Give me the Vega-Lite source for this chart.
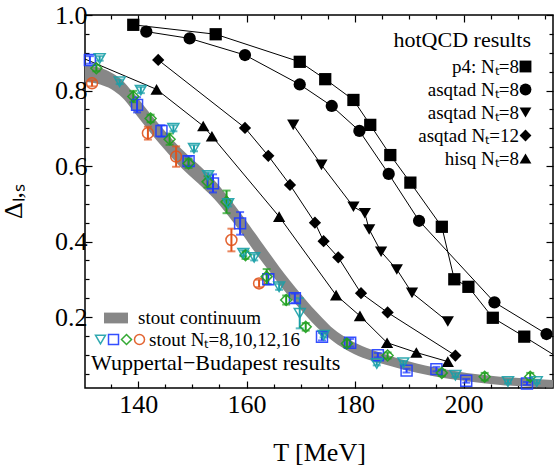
{
  "$schema": "https://vega.github.io/schema/vega-lite/v6.json",
  "width": 468,
  "height": 373,
  "autosize": {"type": "none"},
  "padding": {"left": 85, "top": 15, "right": 1, "bottom": 77},
  "background": "white",
  "config": {
    "font": "Liberation Serif",
    "view": {"stroke": "black", "strokeWidth": 1.5},
    "legend": {"padding": 0, "labelFont": "Liberation Serif", "titleFont": "Liberation Serif", "labelColor": "black", "titleColor": "black", "titleFontWeight": "normal", "titleLimit": 400, "labelLimit": 400}
  },
  "datasets": {
    "band": [
      {"T": 130.2, "lo": 0.823, "hi": 0.867, "series": "stout continuum"},
      {"T": 133, "lo": 0.816, "hi": 0.86, "series": "stout continuum"},
      {"T": 135, "lo": 0.804, "hi": 0.848, "series": "stout continuum"},
      {"T": 137, "lo": 0.782, "hi": 0.828, "series": "stout continuum"},
      {"T": 139, "lo": 0.748, "hi": 0.796, "series": "stout continuum"},
      {"T": 141.5, "lo": 0.702, "hi": 0.752, "series": "stout continuum"},
      {"T": 144, "lo": 0.658, "hi": 0.708, "series": "stout continuum"},
      {"T": 147.7, "lo": 0.599, "hi": 0.649, "series": "stout continuum"},
      {"T": 151, "lo": 0.555, "hi": 0.605, "series": "stout continuum"},
      {"T": 154, "lo": 0.513, "hi": 0.563, "series": "stout continuum"},
      {"T": 156.5, "lo": 0.47, "hi": 0.52, "series": "stout continuum"},
      {"T": 158.8, "lo": 0.427, "hi": 0.477, "series": "stout continuum"},
      {"T": 160.5, "lo": 0.393, "hi": 0.443, "series": "stout continuum"},
      {"T": 162.5, "lo": 0.353, "hi": 0.403, "series": "stout continuum"},
      {"T": 164.3, "lo": 0.319, "hi": 0.367, "series": "stout continuum"},
      {"T": 166.1, "lo": 0.285, "hi": 0.331, "series": "stout continuum"},
      {"T": 168, "lo": 0.252, "hi": 0.296, "series": "stout continuum"},
      {"T": 170, "lo": 0.219, "hi": 0.261, "series": "stout continuum"},
      {"T": 172, "lo": 0.187, "hi": 0.227, "series": "stout continuum"},
      {"T": 174, "lo": 0.159, "hi": 0.197, "series": "stout continuum"},
      {"T": 176, "lo": 0.135, "hi": 0.169, "series": "stout continuum"},
      {"T": 179, "lo": 0.108, "hi": 0.14, "series": "stout continuum"},
      {"T": 182.2, "lo": 0.088, "hi": 0.118, "series": "stout continuum"},
      {"T": 185, "lo": 0.076, "hi": 0.104, "series": "stout continuum"},
      {"T": 188.3, "lo": 0.063, "hi": 0.089, "series": "stout continuum"},
      {"T": 194.5, "lo": 0.043, "hi": 0.067, "series": "stout continuum"},
      {"T": 200.6, "lo": 0.03, "hi": 0.052, "series": "stout continuum"},
      {"T": 206.8, "lo": 0.02, "hi": 0.042, "series": "stout continuum"},
      {"T": 216.5, "lo": 0.013, "hi": 0.033, "series": "stout continuum"}
    ],
    "hot": [
      {"set": "a", "T": 139.1, "D": 0.974}, {"set": "a", "T": 154.3, "D": 0.949}, {"set": "a", "T": 169.8, "D": 0.876},
      {"set": "a", "T": 174.5, "D": 0.83}, {"set": "a", "T": 179.7, "D": 0.775}, {"set": "a", "T": 182.8, "D": 0.709},
      {"set": "a", "T": 186.5, "D": 0.629}, {"set": "a", "T": 190.2, "D": 0.556}, {"set": "a", "T": 196.0, "D": 0.439},
      {"set": "a", "T": 198.3, "D": 0.3}, {"set": "a", "T": 200.9, "D": 0.28}, {"set": "a", "T": 205.4, "D": 0.198},
      {"set": "a", "T": 211.2, "D": 0.148}, {"set": "a", "T": 220, "D": 0.07},
      {"set": "b", "T": 141.5, "D": 0.956}, {"set": "b", "T": 149.5, "D": 0.938}, {"set": "b", "T": 159.7, "D": 0.894},
      {"set": "b", "T": 169.8, "D": 0.816}, {"set": "b", "T": 175.7, "D": 0.759}, {"set": "b", "T": 180.8, "D": 0.693},
      {"set": "b", "T": 186.2, "D": 0.579}, {"set": "b", "T": 191.8, "D": 0.455}, {"set": "b", "T": 205.7, "D": 0.239},
      {"set": "b", "T": 215.3, "D": 0.155},
      {"set": "c", "T": 168.6, "D": 0.709}, {"set": "c", "T": 173.8, "D": 0.603}, {"set": "c", "T": 179.7, "D": 0.492},
      {"set": "c", "T": 181.8, "D": 0.475}, {"set": "c", "T": 182.6, "D": 0.432}, {"set": "c", "T": 184.8, "D": 0.373},
      {"set": "c", "T": 187.7, "D": 0.326}, {"set": "c", "T": 190.5, "D": 0.264}, {"set": "c", "T": 197.1, "D": 0.188},
      {"set": "d", "T": 143.7, "D": 0.881}, {"set": "d", "T": 159.7, "D": 0.701}, {"set": "d", "T": 164.0, "D": 0.627},
      {"set": "d", "T": 168.0, "D": 0.55}, {"set": "d", "T": 172.6, "D": 0.45}, {"set": "d", "T": 174.2, "D": 0.401},
      {"set": "d", "T": 176.9, "D": 0.358}, {"set": "d", "T": 181.1, "D": 0.263}, {"set": "d", "T": 186.0, "D": 0.212},
      {"set": "d", "T": 198.5, "D": 0.098},
      {"set": "e", "T": 125, "D": 0.915}, {"set": "e", "T": 143.4, "D": 0.803}, {"set": "e", "T": 152.0, "D": 0.706},
      {"set": "e", "T": 153.6, "D": 0.679}, {"set": "e", "T": 166.0, "D": 0.466}, {"set": "e", "T": 176.5, "D": 0.258},
      {"set": "e", "T": 180.9, "D": 0.203}, {"set": "e", "T": 185.9, "D": 0.132}, {"set": "e", "T": 191.3, "D": 0.106},
      {"set": "e", "T": 197.1, "D": 0.082}
    ],
    "wb": [
      {"Nt": "16", "T": 131.5, "D": 0.819, "err": 0.008}, {"Nt": "16", "T": 141.8, "D": 0.687, "err": 0.017},
      {"Nt": "16", "T": 147.0, "D": 0.625, "err": 0.027}, {"Nt": "16", "T": 157.2, "D": 0.404, "err": 0.03},
      {"Nt": "16", "T": 162.3, "D": 0.289, "err": 0.01},
      {"Nt": "10", "T": 131.1, "D": 0.881, "err": 0.01}, {"Nt": "10", "T": 139.8, "D": 0.762, "err": 0.02},
      {"Nt": "10", "T": 144.3, "D": 0.693, "err": 0.015}, {"Nt": "10", "T": 149.3, "D": 0.613, "err": 0.012},
      {"Nt": "10", "T": 153.8, "D": 0.554, "err": 0.024}, {"Nt": "10", "T": 158.8, "D": 0.448, "err": 0.03},
      {"Nt": "10", "T": 164.0, "D": 0.3, "err": 0.013}, {"Nt": "10", "T": 168.9, "D": 0.25, "err": 0.012},
      {"Nt": "10", "T": 173.9, "D": 0.148, "err": 0.01}, {"Nt": "10", "T": 179.1, "D": 0.132, "err": 0.01},
      {"Nt": "10", "T": 184.2, "D": 0.099, "err": 0.006}, {"Nt": "10", "T": 189.5, "D": 0.058, "err": 0.005},
      {"Nt": "10", "T": 195.0, "D": 0.062, "err": 0.006}, {"Nt": "10", "T": 200.5, "D": 0.031, "err": 0.005},
      {"Nt": "10", "T": 211.7, "D": 0.024, "err": 0.004},
      {"Nt": "12", "T": 132.3, "D": 0.859, "err": 0.008}, {"Nt": "12", "T": 139.1, "D": 0.784, "err": 0.015},
      {"Nt": "12", "T": 142.3, "D": 0.726, "err": 0.01}, {"Nt": "12", "T": 145.8, "D": 0.671, "err": 0.015},
      {"Nt": "12", "T": 149.3, "D": 0.607, "err": 0.012}, {"Nt": "12", "T": 152.8, "D": 0.558, "err": 0.015},
      {"Nt": "12", "T": 156.3, "D": 0.505, "err": 0.03}, {"Nt": "12", "T": 159.8, "D": 0.364, "err": 0.01},
      {"Nt": "12", "T": 163.7, "D": 0.307, "err": 0.02}, {"Nt": "12", "T": 167.3, "D": 0.245, "err": 0.012},
      {"Nt": "12", "T": 170.9, "D": 0.174, "err": 0.01}, {"Nt": "12", "T": 178.5, "D": 0.13, "err": 0.01},
      {"Nt": "12", "T": 186.0, "D": 0.098, "err": 0.008}, {"Nt": "12", "T": 196.0, "D": 0.052, "err": 0.008},
      {"Nt": "12", "T": 203.9, "D": 0.042, "err": 0.01}, {"Nt": "12", "T": 212.3, "D": 0.042, "err": 0.01},
      {"Nt": "8", "T": 132.9, "D": 0.885, "err": 0.006}, {"Nt": "8", "T": 136.6, "D": 0.823, "err": 0.006},
      {"Nt": "8", "T": 140.5, "D": 0.801, "err": 0.008}, {"Nt": "8", "T": 146.5, "D": 0.7, "err": 0.008},
      {"Nt": "8", "T": 150.3, "D": 0.647, "err": 0.008}, {"Nt": "8", "T": 152.9, "D": 0.575, "err": 0.008},
      {"Nt": "8", "T": 156.6, "D": 0.501, "err": 0.008}, {"Nt": "8", "T": 159.4, "D": 0.369, "err": 0.008},
      {"Nt": "8", "T": 161.4, "D": 0.358, "err": 0.008}, {"Nt": "8", "T": 166.0, "D": 0.28, "err": 0.008},
      {"Nt": "8", "T": 169.8, "D": 0.21, "err": 0.04}, {"Nt": "8", "T": 174.2, "D": 0.152, "err": 0.006},
      {"Nt": "8", "T": 184.0, "D": 0.077, "err": 0.005}, {"Nt": "8", "T": 188.9, "D": 0.079, "err": 0.005},
      {"Nt": "8", "T": 198.5, "D": 0.046, "err": 0.005}, {"Nt": "8", "T": 208.2, "D": 0.029, "err": 0.005},
      {"Nt": "8", "T": 213.5, "D": 0.029, "err": 0.005}
    ]
  },
  "resolve": {"scale": {"shape": "independent"}, "axis": {"x": "independent", "y": "independent"}, "legend": {"color": "independent"}},
  "layer": [
    {
      "data": {"name": "band"},
      "mark": {"type": "area", "interpolate": "monotone", "clip": true, "opacity": 1},
      "encoding": {
        "x": {"field": "T", "type": "quantitative", "scale": {"domain": [130.2, 216.5], "nice": false, "zero": false},
          "axis": {"orient": "bottom", "values": [135,140,145,150,155,160,165,170,175,180,185,190,195,200,205,210,215],
            "labelExpr": "datum.value % 20 === 0 ? datum.label : ''",
            "tickSize": {"condition": {"test": "datum.value % 20 === 0", "value": -7}, "value": -4},
            "tickColor": "black", "tickWidth": 1.2, "domain": false, "grid": false,
            "labelFontSize": 26, "labelColor": "black", "labelPadding": 10, "labelOverlap": false, "labelFlush": false,
            "title": "T [MeV]", "titleFontSize": 26, "titleFontWeight": "normal", "titleColor": "black", "titleY": 64, "titleBaseline": "middle"}},
        "y": {"field": "lo", "type": "quantitative", "scale": {"domain": [0.012, 1.0], "nice": false, "zero": false},
          "axis": {"orient": "left", "values": [0.05,0.1,0.15,0.2,0.25,0.3,0.35,0.4,0.45,0.5,0.55,0.6,0.65,0.7,0.75,0.8,0.85,0.9,0.95,1.0],
            "format": ".1f",
            "labelExpr": "abs(datum.value*5 - round(datum.value*5)) < 0.001 ? datum.label : ''",
            "tickSize": {"condition": {"test": "abs(datum.value*5 - round(datum.value*5)) < 0.001", "value": -7}, "value": -4},
            "tickColor": "black", "tickWidth": 1.2, "domain": false, "grid": false,
            "labelFontSize": 26, "labelColor": "black", "labelPadding": 5, "labelOverlap": false, "labelFlush": false, "labelBaseline": "middle",
            "title": "Δₗ,ₛ", "titleFontSize": 26, "titleFontWeight": "normal", "titleColor": "black", "titleX": -72, "titleY": 186, "titleAngle": -90, "titleBaseline": "middle", "titleAlign": "center"}},
        "y2": {"field": "hi"},
        "fill": {"field": "series", "type": "nominal", "scale": {"range": ["#878787"]},
          "legend": {"orient": "none", "legendX": 19, "legendY": 291, "title": null, "symbolType": "M-1,-0.45H1V0.45H-1Z", "symbolSize": 576, "symbolStrokeWidth": 0, "labelFontSize": 19, "labelOffset": 10}}
      }
    },
    {
      "data": {"name": "hot"},
      "mark": {"type": "line", "color": "black", "strokeWidth": 1, "clip": true},
      "encoding": {
        "x": {"field": "T", "type": "quantitative",
          "axis": {"orient": "top", "values": [135,140,145,150,155,160,165,170,175,180,185,190,195,200,205,210,215],
            "labels": false, "title": null, "domain": false, "grid": false, "tickColor": "black", "tickWidth": 1.2,
            "tickSize": {"condition": {"test": "datum.value % 20 === 0", "value": -7}, "value": -4}}},
        "y": {"field": "D", "type": "quantitative",
          "axis": {"orient": "right", "values": [0.05,0.1,0.15,0.2,0.25,0.3,0.35,0.4,0.45,0.5,0.55,0.6,0.65,0.7,0.75,0.8,0.85,0.9,0.95,1.0],
            "labels": false, "title": null, "domain": false, "grid": false, "tickColor": "black", "tickWidth": 1.2,
            "tickSize": {"condition": {"test": "abs(datum.value*5 - round(datum.value*5)) < 0.001", "value": -7}, "value": -4}}},
        "detail": {"field": "set"}
      }
    },
    {
      "data": {"name": "hot"},
      "mark": {"type": "point", "filled": true, "color": "black", "opacity": 1, "size": 150, "clip": true},
      "encoding": {
        "x": {"field": "T", "type": "quantitative", "axis": null},
        "y": {"field": "D", "type": "quantitative", "axis": null},
        "shape": {"field": "set", "type": "nominal",
          "scale": {"domain": ["a", "b", "c", "d", "e"], "range": ["square", "circle", "triangle-down", "diamond", "triangle-up"]},
          "legend": {"orient": "none", "legendX": 309, "legendY": 15, "title": "hotQCD results", "titleFontSize": 22, "titleAnchor": "end",
            "labelFontSize": 19, "labelAlign": "right", "labelOffset": -16, "rowPadding": 3, "symbolSize": 140,
            "symbolFillColor": "black", "symbolStrokeColor": "black", "symbolStrokeWidth": 0,
            "labelExpr": "datum.label == 'a' ? 'p4: Nₜ=8' : datum.label == 'b' ? 'asqtad Nₜ=8' : datum.label == 'c' ? 'asqtad Nₜ=8' : datum.label == 'd' ? 'asqtad Nₜ=12' : 'hisq Nₜ=8'"}}
      }
    },
    {
      "data": {"name": "wb"},
      "mark": {"type": "errorbar", "ticks": {"size": 8}, "thickness": 2},
      "encoding": {
        "x": {"field": "T", "type": "quantitative", "axis": null},
        "y": {"field": "D", "type": "quantitative", "axis": null},
        "yError": {"field": "err"},
        "color": {"field": "Nt", "type": "nominal", "scale": {"domain": ["8", "10", "12", "16"], "range": ["#1aa0a8", "#1f3cff", "#1fa01f", "#e0541c"]}, "legend": null}
      }
    },
    {
      "data": {"name": "wb"},
      "mark": {"type": "point", "filled": false, "strokeWidth": 1.5, "size": 120, "opacity": 0.9},
      "encoding": {
        "x": {"field": "T", "type": "quantitative", "axis": null},
        "y": {"field": "D", "type": "quantitative", "axis": null},
        "color": {"field": "Nt", "type": "nominal", "scale": {"domain": ["8", "10", "12", "16"], "range": ["#1aa0a8", "#1f3cff", "#1fa01f", "#e0541c"]},
          "legend": {"orient": "none", "legendX": 6, "legendY": 315, "direction": "horizontal", "columns": 4, "gridAlign": "none", "title": "Wuppertal−Budapest results", "titleOrient": "bottom", "titleAnchor": "start", "titleFontSize": 22, "titlePadding": 3,
            "labelFontSize": 19, "labelOffset": 0, "columnPadding": -6, "symbolSize": 100, "symbolStrokeWidth": 1.5, "symbolFillColor": "transparent",
            "labelExpr": "datum.label == '16' ? 'stout Nₜ=8,10,12,16' : ''"}},
        "shape": {"field": "Nt", "type": "nominal", "scale": {"domain": ["8", "10", "12", "16"], "range": ["triangle-down", "square", "diamond", "circle"]}}
      }
    }
  ]
}
